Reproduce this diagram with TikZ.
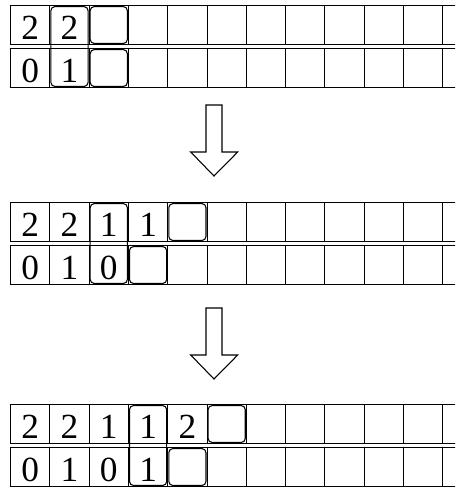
\documentclass[tikz,border=0pt]{standalone}
\usepackage{fontspec}
\setmainfont{Liberation Serif}
\usetikzlibrary{positioning, fit}

\begin{document}
\begin{tikzpicture}[x=0.75pt, y=-0.75pt,
    cell/.style={draw, line width=0.8pt, minimum width=29.475pt, minimum height=29.25pt,
                 inner sep=0pt, anchor=north west},
    digit/.style={anchor=base, inner sep=0pt, font=\fontsize{26.5pt}{27pt}\selectfont},
    ptr/.style={draw, line width=0.8pt, rounded corners=3pt, inner sep=-1.2pt},
    hollow/.style={draw, line width=0.8pt, fill=white},
  ]
    \useasboundingbox (0,0) rectangle (455,489);
    \clip (0,0) rectangle (455,489);

    % the two rows of each step
    \foreach \blk/\top in {a/5, b/202, c/404} {
      \foreach \r in {0,1} {
        \foreach \c in {0,...,11} {
          \node[cell] (\blk-\r-\c) at (10+39.3*\c, \top+43*\r) {};
        }
      }
    }

    % values
    \foreach \blk/\r/\vals in {a/0/{2,2}, a/1/{0,1},
                               b/0/{2,2,1,1}, b/1/{0,1,0},
                               c/0/{2,2,1,1,2}, c/1/{0,1,0,1}} {
      \foreach \v [count=\c from 0] in \vals {
        \node[digit] (\blk-\r-\c-v) at ([yshift=4.3pt]\blk-\r-\c.south) {\v};
      }
    }

    % pointers
    \foreach \blk/\i/\j/\k in {a/1/2/2, b/2/4/3, c/3/5/4} {
      \node[ptr, fit=(\blk-0-\i)(\blk-1-\i)] (\blk-both) {};
      \node[ptr, fit=(\blk-0-\j)] (\blk-up) {};
      \node[ptr, fit=(\blk-1-\k)] (\blk-down) {};
    }

    % step arrows
    \foreach \ay in {0,203} {
      \draw[hollow] (206,105+\ay) -- (222,105+\ay) -- (222,152+\ay) -- (237.7,152+\ay)
        -- (214,176+\ay) -- (190.7,152+\ay) -- (206,152+\ay) -- cycle;
    }
\end{tikzpicture}
\end{document}
